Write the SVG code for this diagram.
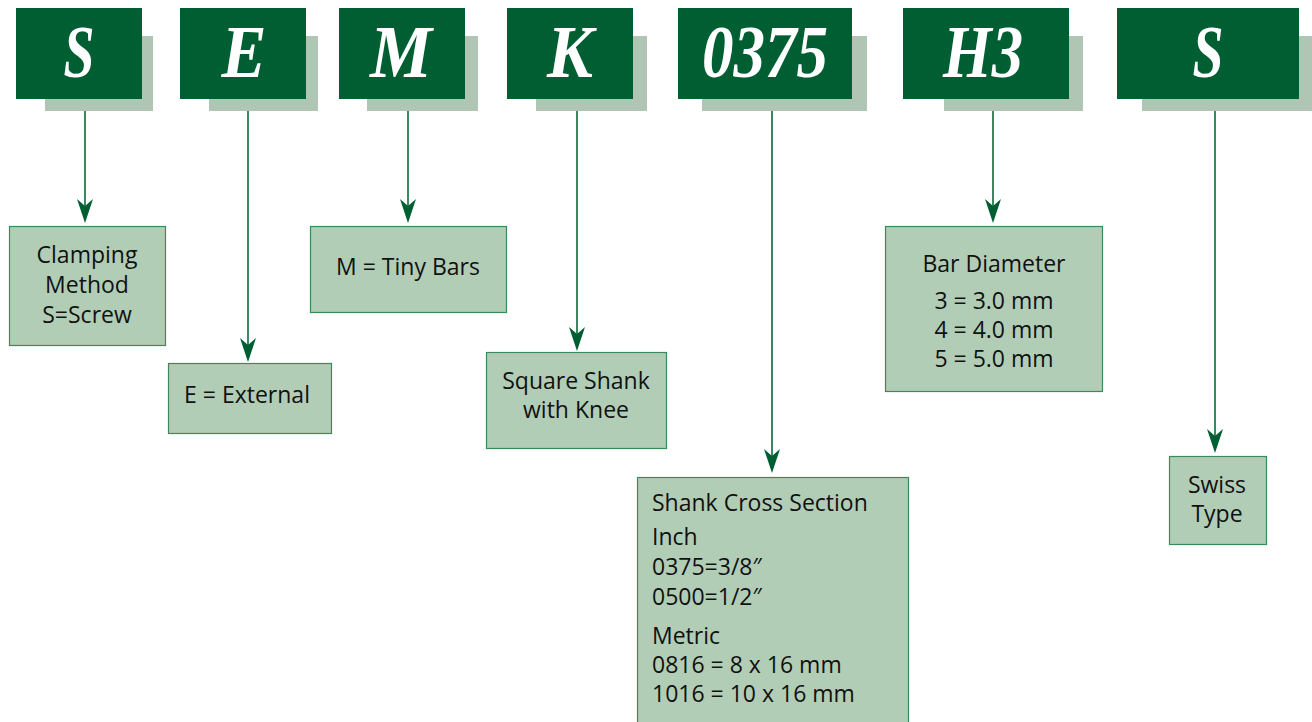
<svg xmlns="http://www.w3.org/2000/svg" width="1312" height="722" viewBox="0 0 1312 722">
<style>
.hd{fill:#005f32}
.sh{fill:#b0c5b4}
.hl{font-family:"Liberation Serif",serif;font-weight:bold;font-style:italic;font-size:75px;fill:#ffffff;text-anchor:middle}
.bx{fill:#b2cdb6;stroke:#3a8a5c;stroke-width:1.2}
.t{font-family:"Open Sans","Noto Sans",sans-serif;font-size:23px;fill:#111111}
.c{text-anchor:middle}
.ln{stroke:#0b6a3c;stroke-width:1.6;fill:none;marker-end:url(#ah)}
</style>
<defs>
<marker id="ah" markerUnits="userSpaceOnUse" viewBox="0 0 24 16" markerWidth="24" markerHeight="16" refX="7" refY="8" orient="auto">
<path d="M24,8 L0,0 L7,8 L0,16 Z" fill="#005f32"/>
</marker>
</defs>
<rect width="1312" height="722" fill="#ffffff"/>
<g id="connectors">
<line class="ln" x1="85" y1="111" x2="85" y2="206"/>
<line class="ln" x1="248" y1="111" x2="248" y2="345"/>
<line class="ln" x1="408" y1="111" x2="408" y2="206"/>
<line class="ln" x1="577" y1="111" x2="577" y2="334"/>
<line class="ln" x1="772" y1="111" x2="772" y2="456"/>
<line class="ln" x1="993" y1="111" x2="993" y2="206"/>
<line class="ln" x1="1215" y1="111" x2="1215" y2="436"/>
</g>
<g id="h-S1"><rect class="sh" x="45" y="36" width="108" height="75"/><rect class="hd" x="16" y="8" width="126" height="91"/><text class="hl" x="79" y="77" textLength="31" lengthAdjust="spacingAndGlyphs">S</text></g>
<g id="h-E"><rect class="sh" x="209" y="36" width="109" height="75"/><rect class="hd" x="180" y="8" width="126" height="91"/><text class="hl" x="244" y="77" textLength="45" lengthAdjust="spacingAndGlyphs">E</text></g>
<g id="h-M"><rect class="sh" x="367" y="36" width="111" height="75"/><rect class="hd" x="339" y="8" width="126" height="91"/><text class="hl" x="401" y="77" textLength="62" lengthAdjust="spacingAndGlyphs">M</text></g>
<g id="h-K"><rect class="sh" x="536" y="36" width="111" height="75"/><rect class="hd" x="507" y="8" width="126" height="91"/><text class="hl" x="570" y="77" textLength="46" lengthAdjust="spacingAndGlyphs">K</text></g>
<g id="h-0375"><rect class="sh" x="702" y="36" width="165" height="75"/><rect class="hd" x="678" y="8" width="174" height="91"/><text class="hl" x="765" y="77" textLength="126" lengthAdjust="spacingAndGlyphs">0375</text></g>
<g id="h-H3"><rect class="sh" x="944" y="36" width="139" height="75"/><rect class="hd" x="903" y="8" width="166" height="91"/><text class="hl" x="983" y="77" textLength="80" lengthAdjust="spacingAndGlyphs">H3</text></g>
<g id="h-S2"><rect class="sh" x="1142" y="36" width="170" height="75"/><rect class="hd" x="1117" y="8" width="182" height="91"/><text class="hl" x="1208" y="77" textLength="31" lengthAdjust="spacingAndGlyphs">S</text></g>
<g id="n-clamping"><rect class="bx" x="9.5" y="226.5" width="156" height="119"/>
<text class="t c" x="87" y="263">Clamping</text><text class="t c" x="87" y="293">Method</text><text class="t c" x="87" y="323">S=Screw</text></g>
<g id="n-external"><rect class="bx" x="168.5" y="363.5" width="163" height="70"/>
<text class="t c" x="247" y="403">E = External</text></g>
<g id="n-tiny"><rect class="bx" x="310.5" y="226.5" width="196" height="86"/>
<text class="t c" x="408" y="275">M = Tiny Bars</text></g>
<g id="n-square"><rect class="bx" x="486.5" y="352.5" width="180" height="96"/>
<text class="t c" x="576" y="389">Square Shank</text><text class="t c" x="576" y="418">with Knee</text></g>
<g id="n-shank"><rect class="bx" x="637.5" y="477.5" width="271" height="250"/>
<text class="t" x="652" y="511">Shank Cross Section</text>
<text class="t" x="652" y="545">Inch</text>
<text class="t" x="652" y="575">0375=3/8″</text>
<text class="t" x="652" y="605">0500=1/2″</text>
<text class="t" x="652" y="644">Metric</text>
<text class="t" x="652" y="673">0816 = 8 x 16 mm</text>
<text class="t" x="652" y="702">1016 = 10 x 16 mm</text></g>
<g id="n-bar"><rect class="bx" x="885.5" y="226.5" width="217" height="165"/>
<text class="t c" x="994" y="272">Bar Diameter</text>
<text class="t c" x="994" y="309">3 = 3.0 mm</text>
<text class="t c" x="994" y="338">4 = 4.0 mm</text>
<text class="t c" x="994" y="367">5 = 5.0 mm</text></g>
<g id="n-swiss"><rect class="bx" x="1169.5" y="456.5" width="97" height="88"/>
<text class="t c" x="1217" y="493">Swiss</text><text class="t c" x="1217" y="522">Type</text></g>
</svg>
